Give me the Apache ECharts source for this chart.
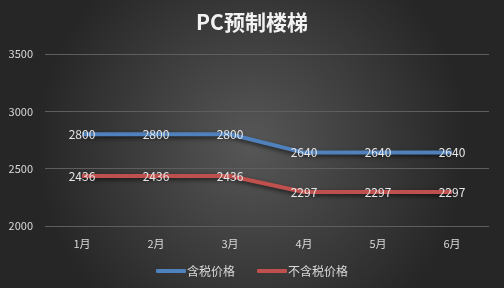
<!DOCTYPE html>
<html><head><meta charset="utf-8">
<script src="https://cdn.jsdelivr.net/npm/echarts@6/dist/echarts.min.js"></script>
<style>html,body{margin:0;padding:0;}#c{width:504px;height:288px;}</style>
</head><body><div id="c"></div>
<script>
var categories = ['1月','2月','3月','4月','5月','6月'];
var taxIncluded = [2800, 2800, 2800, 2640, 2640, 2640];
var taxExcluded = [2436, 2436, 2436, 2297, 2297, 2297];
var yTicks = [2000, 2500, 3000, 3500];
var seriesNames = ['含税价格', '不含税价格'];

var font = '"Noto Sans CJK SC", "Noto Sans", sans-serif';
var chart = echarts.init(document.getElementById('c'));
function mk(name, data, color) {
  return {
    name: name, type: 'line', data: data,
    symbol: 'circle', symbolSize: 0.01, showSymbol: true,
    lineStyle: {width: 4, color: color, shadowColor: 'rgba(0,0,0,0.6)', shadowBlur: 4, shadowOffsetY: 2},
    itemStyle: {color: color},
    label: {show: true, position: 'inside', color: '#e6e6e6', fontSize: 12, fontFamily: font,
      formatter: function(p){return p.value;}},
    emphasis: {disabled: true}
  };
}
chart.setOption({
  animation: false,
  backgroundColor: {type: 'radial', x: 0.5, y: 0.5, r: 0.75,
    colorStops: [{offset: 0, color: '#575757'}, {offset: 1, color: '#262626'}]},
  title: {text: 'PC预制楼梯', left: 'center', top: 7,
    textStyle: {color: '#f2f2f2', fontSize: 21, fontWeight: 'bold', fontFamily: font}},
  legend: {bottom: 6, left: 'center', itemWidth: 30, itemHeight: 4, itemGap: 22,
    icon: 'roundRect',
    textStyle: {color: '#d9d9d9', fontSize: 12, fontFamily: font, padding: [0,0,0,-4]},
    data: seriesNames},
  grid: {left: 45, right: 15, top: 54, bottom: 62},
  xAxis: {type: 'category', data: categories, boundaryGap: true,
    axisLine: {show: false}, axisTick: {show: false},
    axisLabel: {color: '#d9d9d9', fontSize: 11, fontFamily: font, margin: 12}},
  yAxis: {type: 'value', min: yTicks[0], max: yTicks[yTicks.length-1], interval: 500,
    axisLine: {show: false}, axisTick: {show: false},
    axisLabel: {color: '#d9d9d9', fontSize: 11, fontFamily: font, margin: 12,
      formatter: function(v){return String(v);}},
    splitLine: {lineStyle: {color: '#5e5e5e', width: 1}}},
  series: [mk(seriesNames[0], taxIncluded, '#4f81bd'), mk(seriesNames[1], taxExcluded, '#c0504d')]
});
</script></body></html>
